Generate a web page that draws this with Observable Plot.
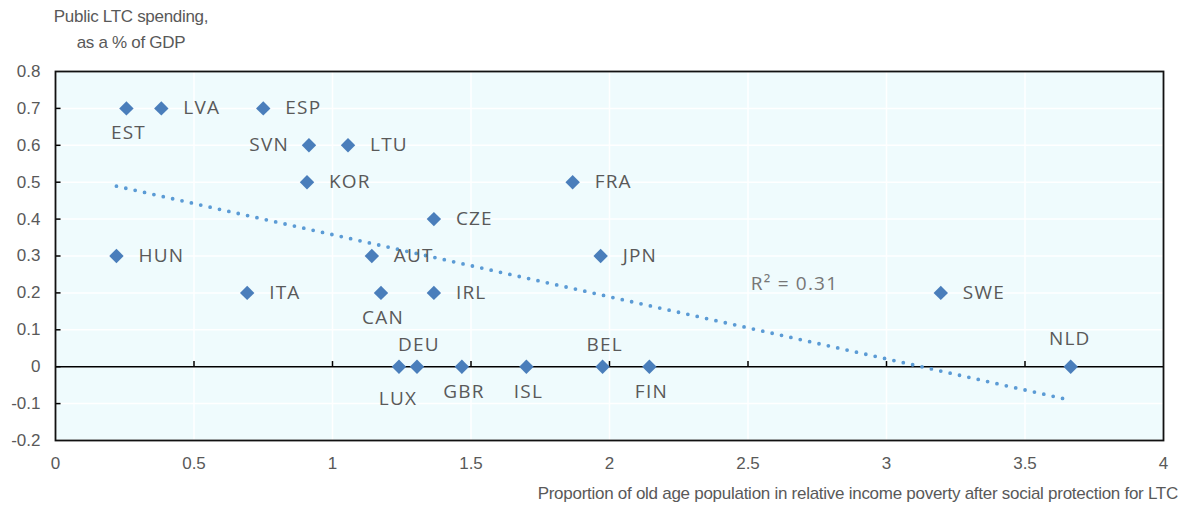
<!DOCTYPE html>
<html>
<head>
<meta charset="utf-8">
<script src="https://cdn.jsdelivr.net/npm/d3@7"></script>
<script src="https://cdn.jsdelivr.net/npm/@observablehq/plot@0.6"></script>
<style>
  html, body { margin: 0; padding: 0; background: #ffffff; }
  #wrap { position: relative; width: 1183px; height: 508px; }
  .narrow { font-family: "Liberation Sans Narrow", "Arial Narrow", "Liberation Sans", Arial, sans-serif; color: #595959; }
  #ytitle { position: absolute; left: 31px; top: 4px; width: 200px; text-align: center; font-size: 17px; line-height: 26px; letter-spacing: -0.3px; }
  #xtitle { position: absolute; right: 5px; top: 484px; font-size: 17px; white-space: nowrap; letter-spacing: -0.27px; }
  #chart { position: absolute; left: 0; top: 0; }
  #chart g.clabel text { letter-spacing: 1.2px; }
</style>
</head>
<body>
<div id="wrap">
  <div id="chart"></div>
  <div id="ytitle" class="narrow">Public LTC spending,<br>as a % of GDP</div>
  <div id="xtitle" class="narrow">Proportion of old age population in relative income poverty after social protection for LTC</div>
</div>
<script>
// ---- Data ----
const countries = ["EST","LVA","ESP","SVN","LTU","KOR","FRA","CZE","HUN","AUT","JPN","ITA","CAN","IRL","SWE","LUX","DEU","GBR","ISL","BEL","FIN","NLD"];
const povertyShare = [0.256,0.382,0.75,0.915,1.056,0.908,1.867,1.366,0.22,1.142,1.968,0.692,1.175,1.366,3.196,1.24,1.305,1.467,1.70,1.975,2.144,3.665];
const ltcSpending = [0.7,0.7,0.7,0.6,0.6,0.5,0.5,0.4,0.3,0.3,0.3,0.2,0.2,0.2,0.2,0,0,0,0,0,0,0];
const labelPlacement = ["below","right","right","left","right","right","right","right","right","right","right","right","below","right","right","belowFar","above","below","below","above","below","aboveFar"];
const xTicks = [0,0.5,1,1.5,2,2.5,3,3.5,4];
const yTicks = [-0.2,-0.1,0,0.1,0.2,0.3,0.4,0.5,0.6,0.7,0.8];
const r2Label = "R² = 0.31";

// ---- Build table ----
const rows = countries.map((c, i) => ({country: c, x: povertyShare[i], y: ltcSpending[i], pos: labelPlacement[i]}));

// Linear trend (least squares) across the data extent
const mx = d3.mean(rows, d => d.x), my = d3.mean(rows, d => d.y);
const slope = d3.sum(rows, d => (d.x - mx) * (d.y - my)) / d3.sum(rows, d => (d.x - mx) ** 2);
const intercept = my - slope * mx;
const [xmin, xmax] = d3.extent(rows, d => d.x);
const trend = [xmin, xmax].map(x => ({x, y: intercept + slope * x}));

const placeStyle = {
  right:    {dx: 22,  dy: 0,   textAnchor: "start"},
  left:     {dx: -20, dy: 0,   textAnchor: "end"},
  below:    {dx: 2,   dy: 25,  textAnchor: "middle"},
  belowFar: {dx: -1,  dy: 32,  textAnchor: "middle"},
  above:    {dx: 2,   dy: -22, textAnchor: "middle"},
  aboveFar: {dx: -1,  dy: -28, textAnchor: "middle"}
};

const labelFont = "'Open Sans', 'Noto Sans', sans-serif";
const labelMarks = Object.entries(placeStyle).map(([k, s]) =>
  Plot.text(rows.filter(d => d.pos === k), {
    x: "x", y: "y", text: "country",
    dx: s.dx, dy: s.dy, textAnchor: s.textAnchor,
    fill: "#595959", fontSize: 19, fontFamily: labelFont, className: "clabel"
  })
);

const fmtY = d => d === 0 ? "0" : (d < 0 ? "-" + Math.abs(d).toFixed(1) : d.toFixed(1));

const plot = Plot.plot({
  width: 1183,
  height: 508,
  marginLeft: 55,
  marginRight: 20,
  marginTop: 71,
  marginBottom: 68,
  style: {fontFamily: "'Liberation Sans Narrow', 'Arial Narrow', 'Liberation Sans', Arial, sans-serif", fontSize: "17px", color: "#595959", background: "transparent"},
  x: {domain: [0, 4]},
  y: {domain: [-0.2, 0.8]},
  marks: [
    Plot.frame({fill: "#effbfd"}),
    Plot.gridX(xTicks, {stroke: "#ffffff", strokeOpacity: 1, strokeWidth: 1.5}),
    Plot.gridY(yTicks, {stroke: "#ffffff", strokeOpacity: 1, strokeWidth: 1.5}),
    Plot.ruleY([0], {stroke: "#000000", strokeWidth: 1.5}),
    Plot.ruleX(xTicks.slice(1, -1), {x: d => d, y1: 0, y2: 0.014, stroke: "#000", strokeWidth: 1.5}),
    Plot.ruleY(yTicks.slice(1, -1), {y: d => d, x1: 0, x2: 0.02, stroke: "#000", strokeWidth: 1.5}),
    Plot.axisX(xTicks, {anchor: "bottom", tickSize: 0, tickPadding: 16, tickFormat: d => String(d), label: null, fill: "#595959"}),
    Plot.axisY(yTicks, {anchor: "left", tickSize: 0, tickPadding: 15, tickFormat: fmtY, label: null, fill: "#595959"}),
    Plot.frame({stroke: "#111111", strokeWidth: 1.8}),
    Plot.line(trend, {x: "x", y: "y", stroke: "#5b9bd5", strokeWidth: 3.8, strokeDasharray: "0 9.6", strokeLinecap: "round"}),
    Plot.dot(rows, {x: "x", y: "y", symbol: "diamond2", r: 6.5, fill: "#4a7ebb", stroke: "none"}),
    ...labelMarks,
    Plot.text([r2Label], {x: 2.51, y: 0.224, text: d => d, textAnchor: "start", fill: "#767676", fontSize: 19, fontFamily: labelFont, className: "clabel"})
  ]
});
document.getElementById("chart").appendChild(plot);
</script>
</body>
</html>
